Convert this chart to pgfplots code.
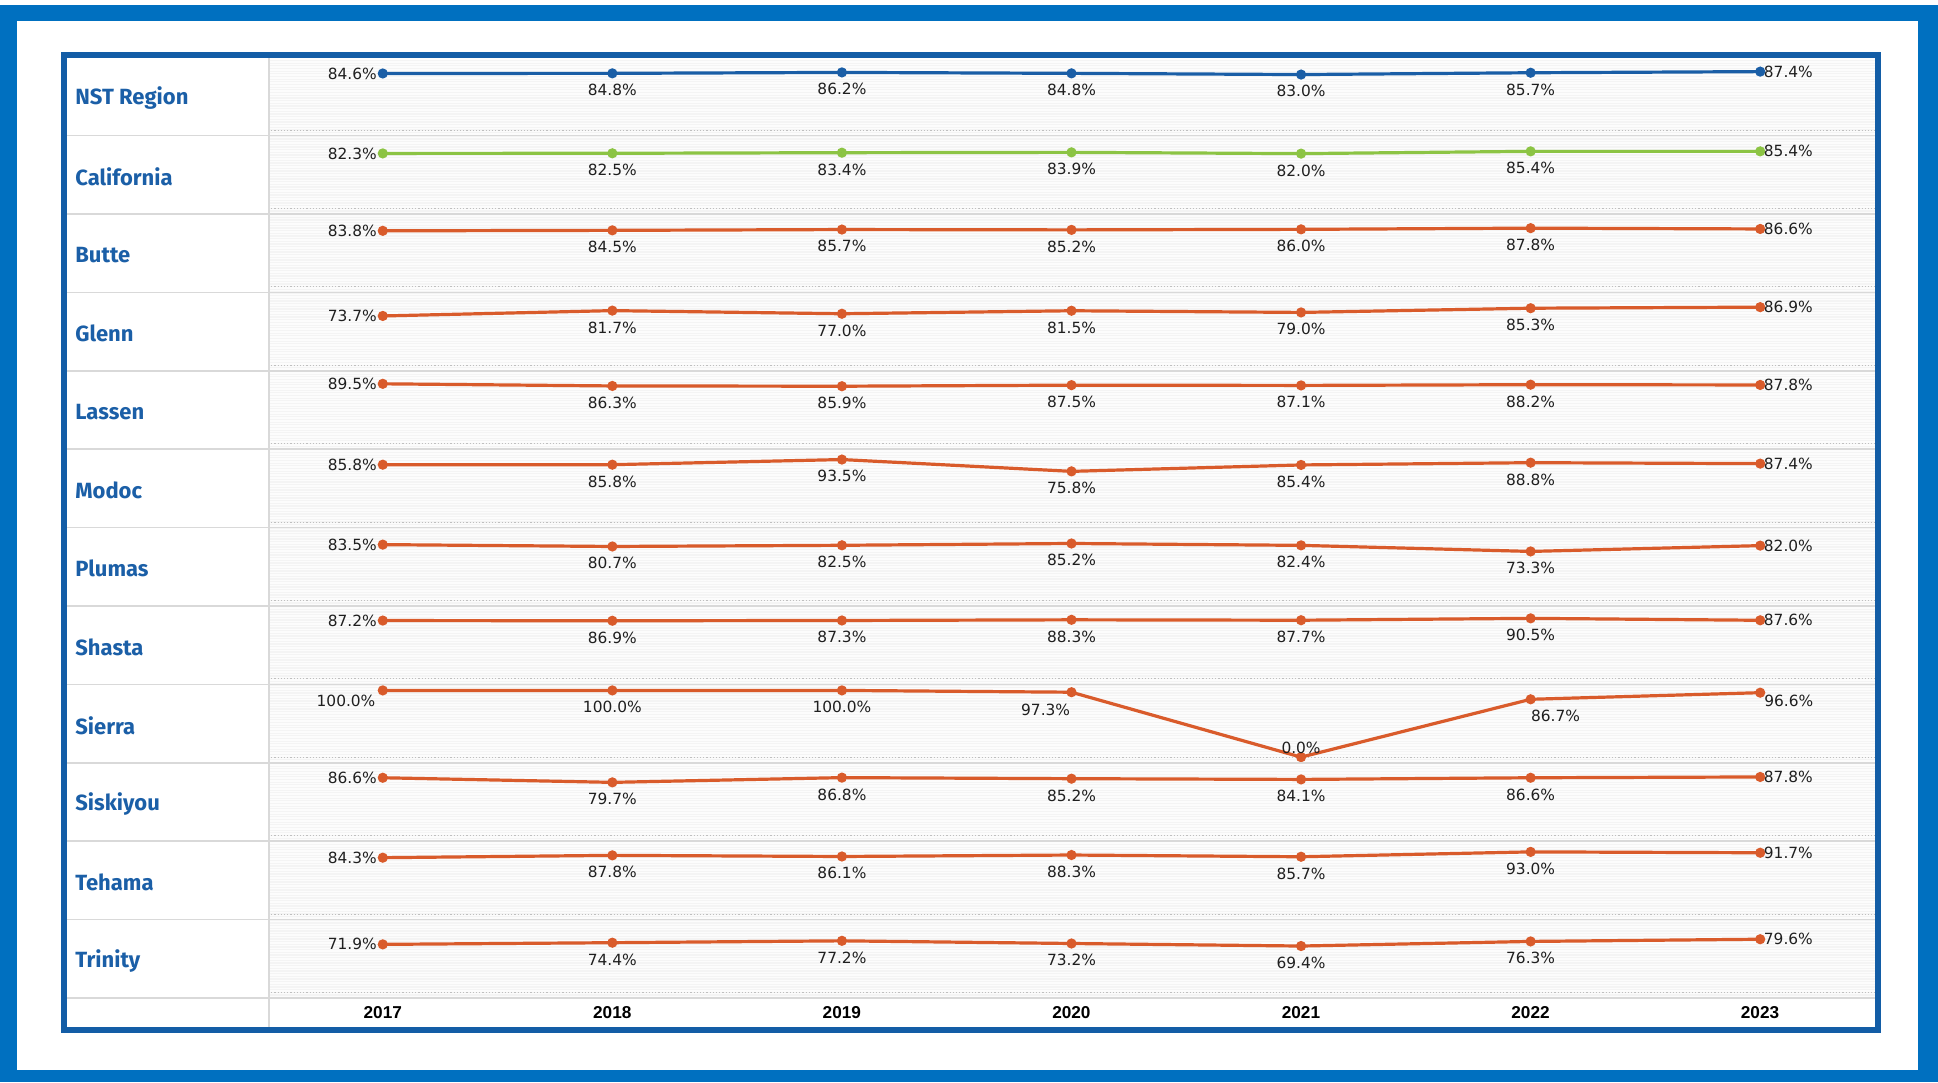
\documentclass[border=0pt]{standalone}
\usepackage{pgfplots}
\pgfplotsset{compat=1.18}
\usepackage{pgfplotstable}
\usepackage{fontspec}
\setmainfont{DejaVu Sans}
\newfontfamily\rowfont{Fira Sans}
\newfontfamily\yearfont{Liberation Sans}
\definecolor{outerblue}{HTML}{0070C0}
\definecolor{frameblue}{HTML}{135DA6}
\definecolor{nstblue}{HTML}{1A5EA6}
\definecolor{cagreen}{HTML}{8CC444}
\definecolor{cntorange}{HTML}{D95B2B}
\definecolor{labelblue}{HTML}{1B5FA7}
\pgfkeys{/pgf/number format/assume math mode=true}

\pgfplotstableread{
year nst ca butte glenn lassen modoc plumas shasta sierra siskiyou tehama trinity
2017 84.6 82.3 83.8 73.7 89.5 85.8 83.5 87.2 100.0 86.6 84.3 71.9
2018 84.8 82.5 84.5 81.7 86.3 85.8 80.7 86.9 100.0 79.7 87.8 74.4
2019 86.2 83.4 85.7 77.0 85.9 93.5 82.5 87.3 100.0 86.8 86.1 77.2
2020 84.8 83.9 85.2 81.5 87.5 75.8 85.2 88.3 97.3 85.2 88.3 73.2
2021 83.0 82.0 86.0 79.0 87.1 85.4 82.4 87.7 0.0 84.1 85.7 69.4
2022 85.7 85.4 87.8 85.3 88.2 88.8 73.3 90.5 86.7 86.6 93.0 76.3
2023 87.4 85.4 86.6 86.9 87.8 87.4 82.0 87.6 96.6 87.8 91.7 79.6
}\data

\pgfplotsset{
 panel/.style={
  width=803.5pt, height=39.2pt, scale only axis,
  xmin=2016.5, xmax=2023.5, ymin=-8.5, ymax=109,
  axis line style={draw=none},
  major tick length=0pt,
  xtick={2017,...,2023}, xticklabels={},
  ytick={-8,-4,...,108}, yticklabels={},
  ymajorgrids, major grid style={gray!9, line width=0.6pt},
  extra y ticks={0}, extra y tick labels={},
  extra y tick style={grid=major, major grid style={gray!50, densely dotted, line width=0.4pt}},
  clip=false,
  axis background/.style={fill=gray!2},
 },
 ln/.style={line width=1.6pt, mark=*, mark size=1.7pt, mark options={solid}},
 lbl/.style={only marks, mark=*, mark size=0pt, mark options={draw=none, fill=none}, forget plot,
   point meta=y, unbounded coords=discard,
   nodes near coords={\pgfmathprintnumber[fixed,fixed zerofill,precision=1]{\pgfplotspointmeta}\%},
   every node near coord/.append style={font=\fontsize{7.7}{9}\selectfont, text=black!88, inner sep=1pt}},
 L/.style={every node near coord/.append style={anchor=east, xshift=-1.8pt}},
 B/.style={every node near coord/.append style={anchor=center, yshift=-8.4pt}},
 R/.style={every node near coord/.append style={anchor=west, xshift=0.65pt}},
}

\newcommand{\panel}[4][]{%
 \begin{axis}[panel, at={(134pt,{-28.6pt-39.2pt*#2})}, anchor=north west, #1]
 \addplot[#4, ln] table[x=year,y=#3]{\data};
 \addplot[lbl, L, restrict x to domain=2016.9:2017.1] table[x=year,y=#3]{\data};
 \addplot[lbl, B, restrict x to domain=2017.9:2022.1] table[x=year,y=#3]{\data};
 \addplot[lbl, R, restrict x to domain=2022.9:2023.1] table[x=year,y=#3]{\data};
 \end{axis}}

\newcommand{\rowlabel}[2]{%
 \node[anchor=west, inner sep=0pt, text=labelblue, font=\rowfont\bfseries\fontsize{11}{13}\selectfont]
   at (75,{57.2+78.4*#1+41}) {#2};}

\begin{document}
\begin{tikzpicture}
\begin{scope}[x=0.5pt,y=-0.5pt]
 \fill[white] (0,0) rectangle (1938,1082);
 \fill[outerblue] (0,5) rectangle (1938,1082);
 \fill[white] (17,21) rectangle (1918,1070);
\end{scope}

\panel{0}{nst}{nstblue}
\panel{1}{ca}{cagreen}
\panel{2}{butte}{cntorange}
\panel{3}{glenn}{cntorange}
\panel{4}{lassen}{cntorange}
\panel{5}{modoc}{cntorange}
\panel{6}{plumas}{cntorange}
\panel{7}{shasta}{cntorange}
\begin{axis}[panel, at={(134pt,{-28.6pt-39.2pt*8})}, anchor=north west]
 \addplot[cntorange, ln] table[x=year,y=sierra]{\data};
 \addplot[lbl, every node near coord/.append style={anchor=north east, xshift=-2.5pt, yshift=-1.2pt}, restrict x to domain=2016.9:2017.1] table[x=year,y=sierra]{\data};
 \addplot[lbl, B, restrict x to domain=2017.9:2019.1] table[x=year,y=sierra]{\data};
 \addplot[lbl, every node near coord/.append style={anchor=north east, xshift=0.5pt, yshift=-4.5pt}, restrict x to domain=2019.9:2020.1] table[x=year,y=sierra]{\data};
 \addplot[lbl, every node near coord/.append style={anchor=center, yshift=4.5pt}, restrict x to domain=2020.9:2021.1] table[x=year,y=sierra]{\data};
 \addplot[lbl, every node near coord/.append style={anchor=north west, xshift=-1pt, yshift=-4.25pt}, restrict x to domain=2021.9:2022.1] table[x=year,y=sierra]{\data};
 \addplot[lbl, every node near coord/.append style={anchor=north west, xshift=0.85pt, yshift=0.15pt}, restrict x to domain=2022.9:2023.1] table[x=year,y=sierra]{\data};
\end{axis}
\panel{9}{siskiyou}{cntorange}
\panel{10}{tehama}{cntorange}
\panel[xticklabels={2017,2018,2019,2020,2021,2022,2023},
  xticklabel style={font=\yearfont\bfseries\fontsize{8.6}{10}\selectfont, text=black, anchor=center, yshift=-7.4pt}]{11}{trinity}{cntorange}

\begin{scope}[x=0.5pt,y=-0.5pt]
 \foreach \i in {1,...,12} {
   \draw[gray!30, line width=0.8pt] (67,{57.2+78.4*\i}) -- (1875,{57.2+78.4*\i});
 }
 \draw[gray!30, line width=0.8pt] (269,57) -- (269,1027);
 \draw[frameblue, line width=3pt] (64,55) rectangle (1878,1030);
 \rowlabel{0}{NST Region}
 \rowlabel{1}{California}
 \rowlabel{2}{Butte}
 \rowlabel{3}{Glenn}
 \rowlabel{4}{Lassen}
 \rowlabel{5}{Modoc}
 \rowlabel{6}{Plumas}
 \rowlabel{7}{Shasta}
 \rowlabel{8}{Sierra}
 \rowlabel{9}{Siskiyou}
 \rowlabel{10}{Tehama}
 \rowlabel{11}{Trinity}
\end{scope}
\end{tikzpicture}
\end{document}
